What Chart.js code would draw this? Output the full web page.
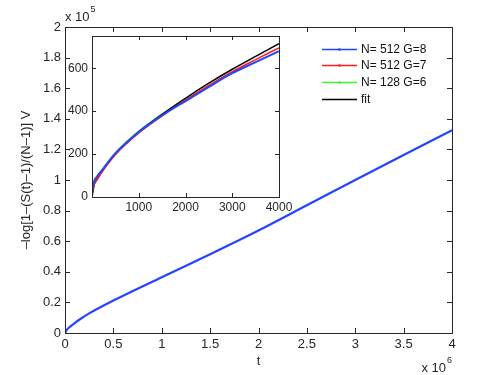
<!DOCTYPE html>
<html>
<head>
<meta charset="utf-8">
<script src="https://cdn.jsdelivr.net/npm/chart.js@4.4.0/dist/chart.umd.min.js"></script>
<style>
  body { margin: 0; background: #fff; }
  #wrap { position: relative; width: 498px; height: 375px; }
  #wrap canvas { position: absolute; left: 0; top: 0; }
</style>
</head>
<body>
<div id="wrap">
  <canvas id="mainChart" width="498" height="375"></canvas>
  <canvas id="insetChart" width="498" height="375"></canvas>
</div>
<script>
// main plot data (t, value)
var main_t = [0, 0.02e6, 0.05e6, 0.1e6, 0.155e6, 0.25e6, 0.5e6, 1e6, 1.5e6, 2e6, 2.5e6, 3e6, 3.5e6, 4e6]
var main_v = [0, 0.022e5, 0.04e5, 0.065e5, 0.09e5, 0.128e5, 0.212e5, 0.365e5, 0.515e5, 0.67e5, 0.835e5, 1.0e5, 1.163e5, 1.325e5]

// inset data
var inset_t = [0, 50, 100, 250, 500, 1000, 1500, 2000, 2500, 3000, 3500, 4000]
var inset_g8 = [31, 75, 93, 135, 203, 303, 380, 447, 513, 577, 628, 679]
var inset_g7 = [23, 60, 78, 128, 197, 298, 378, 452, 520, 584, 640, 695]
var inset_g6 = [47, 75, 92, 137, 206, 307, 386, 460]
var inset_fit = [0, 60, 80, 130, 200, 302, 385, 460, 530, 595, 655, 714]

var legend_labels = ['N= 512 G=8', 'N= 512 G=7', 'N= 128 G=6', 'fit']
var series_colors = ['#2444ff', '#ff1a1a', '#44ee33', '#000000']

var FONT = 'Liberation Sans, Arial, Helvetica, sans-serif'
var AXIS_COLOR = '#262626'

function pts(xs, ys) {
    var out = []
    for (let i = 0; i < ys.length; i++) {
        out.push({x: xs[i], y: ys[i]})
    }
    return out
}

function round1(v) {
    return String(Math.round(v * 10) / 10)
}

// box + inward ticks like matlab
function boxPlugin(tickLen) {
    return {
        id: 'matlabBox',
        beforeDraw(chart) {
            var a = chart.chartArea
            var c = chart.ctx
            c.save()
            c.fillStyle = '#fff'
            c.fillRect(a.left, a.top, a.right - a.left, a.bottom - a.top)
            c.restore()
        },
        afterDraw(chart) {
            var a = chart.chartArea
            var c = chart.ctx
            var xs = chart.scales.x
            var ys = chart.scales.y
            c.save()
            c.strokeStyle = AXIS_COLOR
            c.lineWidth = 1
            c.beginPath()
            xs.ticks.forEach(function (t) {
                var px = Math.round(xs.getPixelForValue(t.value)) + 0.5
                c.moveTo(px, a.bottom)
                c.lineTo(px, a.bottom - tickLen)
                c.moveTo(px, a.top)
                c.lineTo(px, a.top + tickLen)
            })
            ys.ticks.forEach(function (t) {
                var py = Math.round(ys.getPixelForValue(t.value)) + 0.5
                c.moveTo(a.left, py)
                c.lineTo(a.left + tickLen, py)
                c.moveTo(a.right, py)
                c.lineTo(a.right - tickLen, py)
            })
            c.stroke()
            c.strokeRect(Math.round(a.left) + 0.5, Math.round(a.top) + 0.5,
                Math.round(a.right - a.left), Math.round(a.bottom - a.top))
            c.restore()
        }
    }
}

// the "x 10^n" exponent labels
var exponentPlugin = {
    id: 'exponents',
    afterDraw(chart) {
        var a = chart.chartArea
        var c = chart.ctx
        c.save()
        c.fillStyle = AXIS_COLOR
        c.textBaseline = 'alphabetic'
        c.font = '13px ' + FONT
        c.textAlign = 'left'
        c.fillText('x 10', a.left, 21)
        var w = c.measureText('x 10').width
        c.font = '9px ' + FONT
        c.fillText('5', a.left + w + 1, 12)

        c.font = '9px ' + FONT
        var w6 = c.measureText('6').width
        c.fillText('6', a.right - w6, 363)
        c.font = '13px ' + FONT
        c.textAlign = 'right'
        c.fillText('x 10', a.right - w6 - 1, 372)
        c.restore()
    }
}

var legendPlugin = {
    id: 'insetLegend',
    afterDraw(chart) {
        var c = chart.ctx
        var x0 = 322, x1 = 357, y0 = 48.5, dy = 16.7
        c.save()
        c.font = '12px ' + FONT
        c.textBaseline = 'middle'
        c.textAlign = 'left'
        chart.data.datasets.forEach(function (ds, i) {
            var y = Math.round(y0 + i * dy) + 0.5
            c.strokeStyle = ds.borderColor
            c.lineWidth = 1.5
            c.beginPath()
            c.moveTo(x0, y)
            c.lineTo(x1, y)
            c.stroke()
            if (i < 3) {
                c.fillStyle = ds.borderColor
                c.beginPath()
                c.arc((x0 + x1) / 2, y, 1.3, 0, Math.PI * 2)
                c.fill()
            }
            c.fillStyle = '#111'
            c.fillText(legend_labels[i], 361, y + 0.5)
        })
        c.restore()
    }
}

function main_chart() {
    const ctx = document.getElementById('mainChart')
    new Chart(ctx, {
        type: 'line',
        data: {
            datasets: [{
                label: legend_labels[0],
                data: pts(main_t, main_v),
                borderColor: series_colors[0],
                borderWidth: 2.2,
                pointRadius: 0,
                cubicInterpolationMode: 'monotone'
            }]
        },
        options: {
            responsive: false,
            animation: false,
            layout: { padding: { top: 27, right: 46, left: 0, bottom: 0 } },
            plugins: { legend: { display: false }, tooltip: { enabled: false } },
            scales: {
                x: {
                    type: 'linear',
                    min: 0, max: 4e6,
                    ticks: {
                        stepSize: 0.5e6, padding: 4, color: AXIS_COLOR,
                        font: { family: FONT, size: 13 },
                        maxRotation: 0,
                        callback: function (v) { return round1(v / 1e6) }
                    },
                    grid: { drawOnChartArea: false, drawTicks: false },
                    border: { display: false },
                    title: {
                        display: true, text: 't', color: AXIS_COLOR,
                        font: { family: FONT, size: 13 },
                        padding: { top: 0, bottom: 6 }
                    },
                    afterFit: function (s) { s.height = 42 }
                },
                y: {
                    type: 'linear',
                    min: 0, max: 2e5,
                    ticks: {
                        stepSize: 0.2e5, padding: 4, color: AXIS_COLOR,
                        font: { family: FONT, size: 13 },
                        callback: function (v) { return round1(v / 1e5) }
                    },
                    grid: { drawOnChartArea: false, drawTicks: false },
                    border: { display: false },
                    title: {
                        display: true, text: '–log[1–(S(t)–1)/(N–1)] V', color: AXIS_COLOR,
                        font: { family: FONT, size: 13 },
                        padding: { top: 19, bottom: 0 }
                    },
                    afterFit: function (s) { s.width = 65 }
                }
            }
        },
        plugins: [boxPlugin(5), exponentPlugin]
    })
}
main_chart()

function inset_chart() {
    const ctx = document.getElementById('insetChart')
    var sets = [inset_g8, inset_g7, inset_g6, inset_fit]
    var datasets = []
    for (let i = 0; i < sets.length; i++) {
        datasets.push({
            label: legend_labels[i],
            data: pts(inset_t, sets[i]),
            borderColor: series_colors[i],
            borderWidth: i == 0 ? 2 : 1.5,
            pointRadius: 0,
            cubicInterpolationMode: 'monotone'
        })
    }
    // draw blue on top like the reference
    datasets[0].order = 0
    datasets[1].order = 1
    datasets[2].order = 3
    datasets[3].order = 2

    new Chart(ctx, {
        type: 'line',
        data: { datasets: datasets },
        options: {
            responsive: false,
            animation: false,
            layout: { padding: { top: 36, right: 219, left: 0, bottom: 158 } },
            plugins: { legend: { display: false }, tooltip: { enabled: false } },
            scales: {
                x: {
                    type: 'linear',
                    min: 0, max: 4000,
                    ticks: {
                        stepSize: 1000, padding: 3, color: AXIS_COLOR,
                        font: { family: FONT, size: 12 },
                        maxRotation: 0,
                        callback: function (v) { return v == 0 ? '' : String(v) }
                    },
                    grid: { drawOnChartArea: false, drawTicks: false },
                    border: { display: false },
                    afterFit: function (s) { s.height = 20 }
                },
                y: {
                    type: 'linear',
                    min: 0, max: 750,
                    ticks: {
                        stepSize: 200, padding: 4, color: AXIS_COLOR,
                        font: { family: FONT, size: 12 }
                    },
                    afterBuildTicks: function (s) {
                        s.ticks = s.ticks.filter(function (t) { return t.value % 200 === 0 })
                    },
                    grid: { drawOnChartArea: false, drawTicks: false },
                    border: { display: false },
                    afterFit: function (s) { s.width = 92 }
                }
            }
        },
        plugins: [boxPlugin(4), legendPlugin]
    })
}
inset_chart()
</script>
</body>
</html>
